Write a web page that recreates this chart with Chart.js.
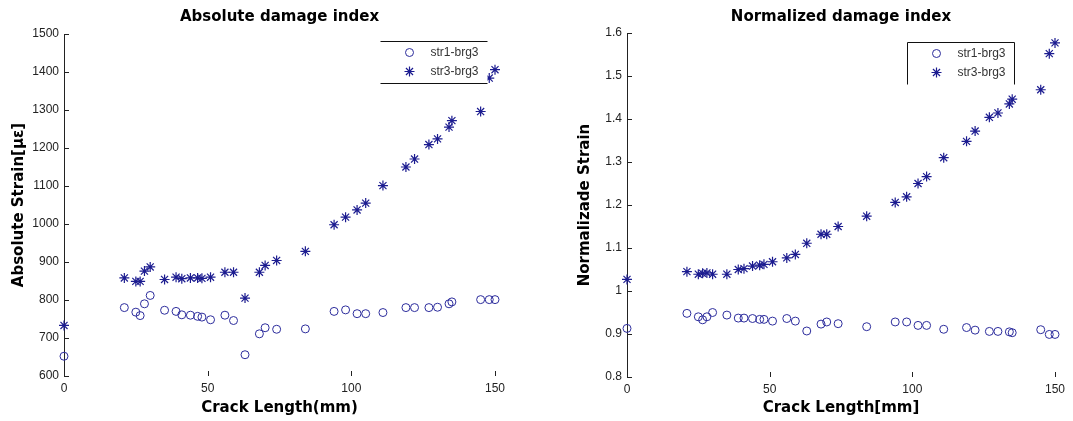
<!DOCTYPE html>
<html>
<head>
<meta charset="utf-8">
<script src="https://cdn.jsdelivr.net/npm/chart.js@4.4.1/dist/chart.umd.min.js"></script>
<style>
  html, body { margin: 0; padding: 0; background: #fff; }
  #wrap { position: relative; width: 1073px; height: 421px; }
  .box { position: absolute; top: 0; height: 421px; }
</style>
</head>
<body>
<div id="wrap">
  <div class="box" style="left:0;width:536px"><canvas id="Chart-1" width="536" height="421"></canvas></div>
  <div class="box" style="left:536px;width:537px"><canvas id="Chart-2" width="537" height="421"></canvas></div>
</div>
<script>
// crack length (mm), shared by all four series
var crackLength = [0, 21, 25, 26.5, 28, 30, 35, 39, 41, 44, 46.5, 48, 51, 56, 59, 63, 68, 70, 74, 84,
                   94, 98, 102, 105, 111, 119, 122, 127, 130, 134, 135, 145, 148, 150];

// absolute strain (micro strain)
var absStr1 = [652, 780, 768, 759, 790, 812, 773, 770, 761, 760, 757, 755, 748, 760, 746, 656, 711, 727, 723, 724,
               770, 774, 764, 764, 767, 780, 780, 780, 781, 790, 795, 801, 801, 801];
var absStr3 = [733, 858, 849, 849, 876, 887, 854, 860, 856, 858, 858, 857, 860, 873, 873, 805, 873, 891, 904, 928,
               998, 1018, 1037, 1055, 1101, 1150, 1171, 1209, 1224, 1255, 1272, 1296, 1384, 1406];

// normalized strain
var normStr1 = [0.913, 0.948, 0.940, 0.933, 0.940, 0.950, 0.944, 0.937, 0.937, 0.936, 0.934, 0.934, 0.930, 0.936, 0.930, 0.907, 0.923, 0.928, 0.924, 0.917,
                0.928, 0.928, 0.920, 0.920, 0.911, 0.915, 0.909, 0.906, 0.906, 0.905, 0.903, 0.910, 0.899, 0.899];
var normStr3 = [1.027, 1.045, 1.039, 1.041, 1.042, 1.039, 1.039, 1.050, 1.052, 1.058, 1.060, 1.062, 1.068, 1.077, 1.085, 1.111, 1.132, 1.132, 1.150, 1.174,
                1.206, 1.219, 1.250, 1.266, 1.310, 1.348, 1.372, 1.404, 1.414, 1.435, 1.446, 1.468, 1.552, 1.577];

var seriesNames = ["str1-brg3", "str3-brg3"];

var xTicks = [0, 50, 100, 150];
var absTicks = [600, 700, 800, 900, 1000, 1100, 1200, 1300, 1400, 1500];
var normTicks = [0.8, 0.9, 1, 1.1, 1.2, 1.3, 1.4, 1.5, 1.6];

var FONT = "'Liberation Sans', Arial, sans-serif";
var BOLD = "'DejaVu Sans', 'Liberation Sans', sans-serif";
var circleColor = "#2c2c9c";
var starColor = "#1c1c90";

function pts(ys) {
  return crackLength.map(function (x, i) { return {x: x, y: ys[i]}; });
}

// title centred over the plot area, not the whole canvas
var plotTitle = {
  id: "plotTitle",
  afterDraw: function (chart, args, opts) {
    var ctx = chart.ctx, a = chart.chartArea;
    ctx.save();
    ctx.fillStyle = "#000";
    ctx.font = "bold 15px " + BOLD;
    ctx.textAlign = "center";
    ctx.textBaseline = "middle";
    ctx.fillText(opts.text, (a.left + a.right) / 2, opts.y);
    ctx.restore();
  }
};

// legend drawn inside the plot, MATLAB style
var boxLegend = {
  id: "boxLegend",
  afterDatasetsDraw: function (chart, args, opts) {
    var ctx = chart.ctx, a = chart.chartArea;
    var w = opts.width, h = opts.height;
    var x = Math.round(a.right - opts.right - w) + 0.5, y = Math.round(a.top + opts.top) + 0.5;
    ctx.save();
    ctx.fillStyle = "#fff";
    ctx.fillRect(x, y, w, h);
    ctx.strokeStyle = "#111";
    ctx.lineWidth = 1;
    ctx.beginPath();
    if (opts.sides.indexOf("t") >= 0) { ctx.moveTo(x, y); ctx.lineTo(x + w, y); }
    if (opts.sides.indexOf("b") >= 0) { ctx.moveTo(x, y + h); ctx.lineTo(x + w, y + h); }
    if (opts.sides.indexOf("l") >= 0) { ctx.moveTo(x, y); ctx.lineTo(x, y + h); }
    if (opts.sides.indexOf("r") >= 0) { ctx.moveTo(x + w, y); ctx.lineTo(x + w, y + h); }
    ctx.stroke();
    chart.data.datasets.forEach(function (ds, i) {
      var ry = y + 11 + i * 19;
      ctx.strokeStyle = ds.borderColor;
      ctx.fillStyle = ds.backgroundColor;
      ctx.lineWidth = ds.borderWidth;
      Chart.helpers.drawPoint(ctx, {pointStyle: ds.pointStyle, radius: ds.pointRadius, rotation: 0, borderWidth: ds.borderWidth}, x + 29, ry);
      ctx.fillStyle = "#333";
      ctx.font = "12px " + FONT;
      ctx.textBaseline = "middle";
      ctx.fillText(ds.label, x + 50, ry);
    });
    ctx.restore();
  }
};

// tick marks pointing into the plot
var innerTicks = {
  id: "innerTicks",
  afterDraw: function (chart) {
    var ctx = chart.ctx, a = chart.chartArea, sx = chart.scales.x, sy = chart.scales.y;
    ctx.save();
    ctx.strokeStyle = "#222";
    ctx.lineWidth = 1;
    ctx.beginPath();
    sy.ticks.forEach(function (t) {
      var py = Math.round(sy.getPixelForValue(t.value)) + 0.5;
      ctx.moveTo(a.left, py); ctx.lineTo(a.left + 5, py);
    });
    sx.ticks.forEach(function (t) {
      var px = Math.round(sx.getPixelForValue(t.value)) + 0.5;
      ctx.moveTo(px, a.bottom); ctx.lineTo(px, a.bottom - 5);
    });
    ctx.stroke();
    ctx.restore();
  }
};

function makeChart(id, c) {
  new Chart(id, {
    type: "scatter",
    data: {
      datasets: [{
        label: seriesNames[0],
        data: pts(c.s1),
        pointStyle: "circle",
        pointRadius: 4,
        borderWidth: 1,
        borderColor: circleColor,
        backgroundColor: "rgba(0,0,0,0)",
        clip: false
      }, {
        label: seriesNames[1],
        data: pts(c.s3),
        pointStyle: "star",
        pointRadius: 5,
        borderWidth: 1.2,
        borderColor: starColor,
        backgroundColor: starColor,
        clip: false
      }]
    },
    options: {
      responsive: false,
      animation: false,
      devicePixelRatio: 1,
      layout: {padding: {left: 0, right: c.padRight, top: c.padTop, bottom: 0}},
      plugins: {
        legend: {display: false},
        tooltip: {enabled: false},
        title: {display: false},
        plotTitle: {text: c.title, y: 17},
        boxLegend: c.legend
      },
      scales: {
        x: {
          type: "linear",
          min: 0, max: 150,
          afterBuildTicks: function (s) { s.ticks = xTicks.map(function (v) { return {value: v}; }); },
          afterFit: function (s) { s.height = c.xHeight; },
          grid: {display: false, drawTicks: false, tickLength: 0},
          border: {display: false},
          ticks: {color: "#222", padding: 5, maxRotation: 0, font: {family: FONT, size: 12}},
          title: {display: true, text: c.xTitle, color: "#000", font: {family: BOLD, size: 15, weight: "bold"}, padding: {top: 4, bottom: 4}}
        },
        y: {
          type: "linear",
          min: c.yTicks[0], max: c.yTicks[c.yTicks.length - 1],
          afterBuildTicks: function (s) { s.ticks = c.yTicks.map(function (v) { return {value: v}; }); },
          afterFit: function (s) { s.width = c.yWidth; },
          grid: {display: true, drawOnChartArea: false, drawTicks: false},
          border: {display: true, color: "#222", width: 1},
          ticks: {color: "#222", padding: 5, font: {family: FONT, size: 12},
                  callback: function (v) { return String(Math.round(v * 10) / 10); }},
          title: {display: true, text: c.yTitle, color: "#000", font: {family: BOLD, size: 15, weight: "bold"}, padding: {top: c.yTitlePad, bottom: 0}}
        }
      }
    },
    plugins: [boxLegend, innerTicks, plotTitle]
  });
}

makeChart("Chart-1", {
  title: "Absolute damage index",
  xTitle: "Crack Length(mm)",
  yTitle: "Absolute Strain[\u03bc\u03b5]",
  s1: absStr1, s3: absStr3, yTicks: absTicks,
  yWidth: 64, padRight: 41, padTop: 34, xHeight: 45, yTitlePad: 10,
  legend: {width: 107, height: 42, right: 8, top: 7, sides: "tb"}
});

makeChart("Chart-2", {
  title: "Normalized damage index",
  xTitle: "Crack Length[mm]",
  yTitle: "Normalizade Strain",
  s1: normStr1, s3: normStr3, yTicks: normTicks,
  yWidth: 91, padRight: 18, padTop: 33, xHeight: 44, yTitlePad: 40,
  legend: {width: 107, height: 42, right: 41, top: 9, sides: "tlr"}
});
</script>
</body>
</html>
